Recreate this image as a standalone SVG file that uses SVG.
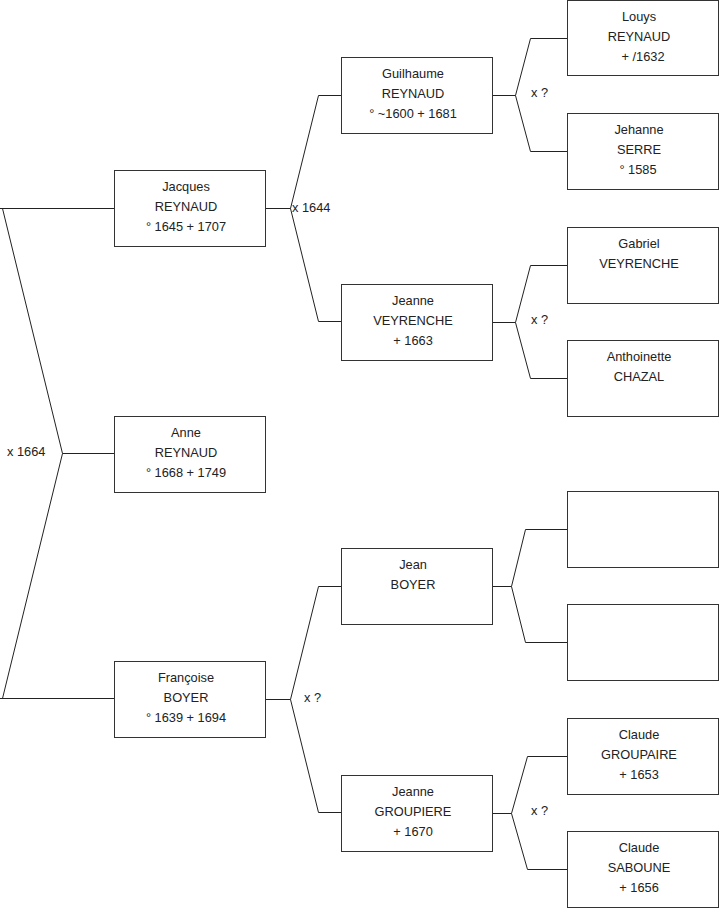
<svg xmlns="http://www.w3.org/2000/svg" width="719" height="908" viewBox="0 0 719 908">
<style>
.box{fill:#fff;stroke:#333;stroke-width:1}
.t{font-family:"Liberation Sans",Arial,sans-serif;font-size:12.8px;fill:#222;text-anchor:middle}
.l{font-family:"Liberation Sans",Arial,sans-serif;font-size:12.8px;fill:#222}
.c{fill:none;stroke:#222;stroke-width:1}
</style>
<rect width="719" height="908" fill="#fff"/>
<g id="connectors">
<path class="c" d="M0 208.5H114.5M2.5 208.5L62.5 453.5L2.5 698.5M0 698.5H114.5M62.5 453.5H114.5"/>
<path class="c" d="M265.5 208.5H290.5M341.5 95.5H318.5L290.5 208.5L318.5 321.5H341.5"/>
<path class="c" d="M265.5 699.5H290.5M341.5 586.5H318.5L290.5 699.5L318.5 812.5H341.5"/>
<path class="c" d="M492.5 95.5H515.5M567.5 38.5H530.5L515.5 95.5L530.5 151.5H567.5"/>
<path class="c" d="M492.5 322.5H515.5M567.5 265.5H530.5L515.5 322.5L530.5 378.5H567.5"/>
<path class="c" d="M492.5 586.5H511.5M567.5 529.5H525.5L511.5 586.5L525.5 642.5H567.5"/>
<path class="c" d="M492.5 813.5H511.5M567.5 756.5H527.5L511.5 813.5L527.5 869.5H567.5"/>
<text class="l" x="292" y="212">x 1644</text>
<text class="l" x="7" y="456">x 1664</text>
<text class="l" x="304" y="702">x ?</text>
<text class="l" x="531" y="97">x ?</text>
<text class="l" x="531" y="324">x ?</text>
<text class="l" x="531" y="815">x ?</text>
</g>
<g id="jacques"><rect class="box" x="114.5" y="170.5" width="151" height="76"/><text class="t" x="186" y="191">Jacques</text><text class="t" x="186" y="211">REYNAUD</text><text class="t" x="186" y="231">° 1645 + 1707</text></g>
<g id="anne"><rect class="box" x="114.5" y="416.5" width="151" height="76"/><text class="t" x="186" y="437">Anne</text><text class="t" x="186" y="457">REYNAUD</text><text class="t" x="186" y="477">° 1668 + 1749</text></g>
<g id="francoise"><rect class="box" x="114.5" y="661.5" width="151" height="76"/><text class="t" x="186" y="682">Françoise</text><text class="t" x="186" y="702">BOYER</text><text class="t" x="186" y="722">° 1639 + 1694</text></g>
<g id="guilhaume"><rect class="box" x="341.5" y="57.5" width="151" height="76"/><text class="t" x="413" y="78">Guilhaume</text><text class="t" x="413" y="98">REYNAUD</text><text class="t" x="413" y="118">° ~1600 + 1681</text></g>
<g id="jeanne-v"><rect class="box" x="341.5" y="284.5" width="151" height="76"/><text class="t" x="413" y="305">Jeanne</text><text class="t" x="413" y="325">VEYRENCHE</text><text class="t" x="413" y="345">+ 1663</text></g>
<g id="jean"><rect class="box" x="341.5" y="548.5" width="151" height="76"/><text class="t" x="413" y="569">Jean</text><text class="t" x="413" y="589">BOYER</text></g>
<g id="jeanne-g"><rect class="box" x="341.5" y="775.5" width="151" height="76"/><text class="t" x="413" y="796">Jeanne</text><text class="t" x="413" y="816">GROUPIERE</text><text class="t" x="413" y="836">+ 1670</text></g>
<g id="louys"><rect class="box" x="567.5" y="0.5" width="151" height="75"/><text class="t" x="639" y="21">Louys</text><text class="t" x="639" y="41">REYNAUD</text><text class="t" x="643" y="61">+ /1632</text></g>
<g id="jehanne"><rect class="box" x="567.5" y="113.5" width="151" height="76"/><text class="t" x="639" y="134">Jehanne</text><text class="t" x="639" y="154">SERRE</text><text class="t" x="638" y="174">° 1585</text></g>
<g id="gabriel"><rect class="box" x="567.5" y="227.5" width="151" height="76"/><text class="t" x="639" y="248">Gabriel</text><text class="t" x="639" y="268">VEYRENCHE</text></g>
<g id="anthoinette"><rect class="box" x="567.5" y="340.5" width="151" height="76"/><text class="t" x="639" y="361">Anthoinette</text><text class="t" x="639" y="381">CHAZAL</text></g>
<g id="empty1"><rect class="box" x="567.5" y="491.5" width="151" height="76"/></g>
<g id="empty2"><rect class="box" x="567.5" y="604.5" width="151" height="76"/></g>
<g id="claude-g"><rect class="box" x="567.5" y="718.5" width="151" height="76"/><text class="t" x="639" y="739">Claude</text><text class="t" x="639" y="759">GROUPAIRE</text><text class="t" x="639" y="779">+ 1653</text></g>
<g id="claude-s"><rect class="box" x="567.5" y="831.5" width="151" height="76"/><text class="t" x="639" y="852">Claude</text><text class="t" x="639" y="872">SABOUNE</text><text class="t" x="639" y="892">+ 1656</text></g>
</svg>
